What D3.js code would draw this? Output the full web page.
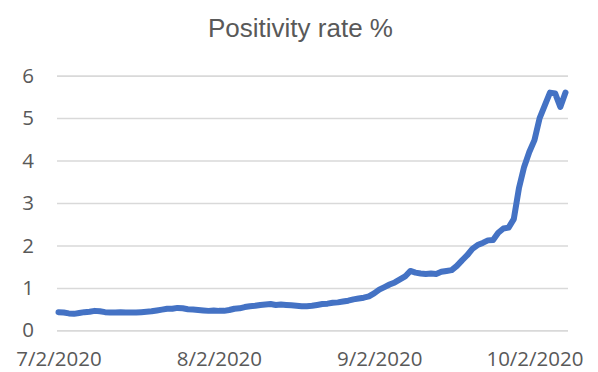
<!DOCTYPE html>
<html>
<head>
<meta charset="utf-8">
<script src="https://cdn.jsdelivr.net/npm/d3@7"></script>
<style>
  html, body { margin: 0; padding: 0; background: #ffffff; }
  svg { display: block; }
</style>
</head>
<body>
<svg id="chart" width="598" height="372"></svg>
<script>
// ---- data ----
const chartTitle = "Positivity rate %";
const startDate = "2020-07-02";          // first daily observation
const positivity = [
  0.43, 0.42, 0.40, 0.39, 0.41, 0.43, 0.44, 0.46, 0.45, 0.43,
  0.42, 0.42, 0.43, 0.42, 0.42, 0.42, 0.43, 0.44, 0.45, 0.47,
  0.49, 0.51, 0.51, 0.53, 0.52, 0.50, 0.49, 0.48, 0.47, 0.46,
  0.47, 0.46, 0.46, 0.48, 0.51, 0.52, 0.55, 0.57, 0.58, 0.60,
  0.61, 0.62, 0.60, 0.61, 0.60, 0.59, 0.58, 0.57, 0.57, 0.58,
  0.60, 0.62, 0.63, 0.65, 0.66, 0.68, 0.70, 0.73, 0.75, 0.77,
  0.80, 0.87, 0.96, 1.02, 1.08, 1.13, 1.20, 1.27, 1.40, 1.36,
  1.34, 1.33, 1.34, 1.33, 1.38, 1.40, 1.42, 1.52, 1.65, 1.77,
  1.92, 2.01, 2.06, 2.12, 2.13, 2.30, 2.40, 2.42, 2.62, 3.35,
  3.85, 4.20, 4.48, 5.00, 5.30, 5.60, 5.58, 5.26, 5.60
];
const xTickLabels = ["2020-07-02", "2020-08-02", "2020-09-02", "2020-10-02"];
const yTicks = [0, 1, 2, 3, 4, 5, 6];

// ---- build series ----
const parse = d3.timeParse("%Y-%m-%d");
const d0 = parse(startDate);
const series = positivity.map((v, i) => ({ date: d3.timeDay.offset(d0, i), value: v }));

// ---- layout ----
const svg = d3.select("#chart");
const plot = { left: 57, right: 568, top: 75.6, bottom: 330.4 };

const x = d3.scaleTime()
  .domain([d0, series[series.length - 1].date])
  .range([58.5, 565.5]);
const y = d3.scaleLinear()
  .domain([0, 6])
  .range([plot.bottom, plot.top]);

// title
svg.append("text")
  .attr("x", 300.5)
  .attr("y", 37)
  .attr("text-anchor", "middle")
  .attr("font-family", "'Liberation Sans', Arial, sans-serif")
  .attr("font-size", 26)
  .attr("fill", "#595959")
  .text(chartTitle);

// gridlines (y axis)
const yAxis = d3.axisLeft(y)
  .tickValues(yTicks)
  .tickSize(-(plot.right - plot.left))
  .tickPadding(23)
  .tickFormat(d3.format("d"));
const gy = svg.append("g")
  .attr("transform", `translate(${plot.left},0)`)
  .call(yAxis);
gy.select(".domain").remove();
gy.selectAll(".tick line")
  .attr("stroke", "#d9d9d9")
  .attr("stroke-width", 1.6);
gy.selectAll(".tick text")
  .attr("font-family", "'Open Sans', sans-serif")
  .attr("font-size", 20.5)
  .attr("fill", "#595959");

// x axis labels
const xAxis = d3.axisBottom(x)
  .tickValues(xTickLabels.map(parse))
  .tickSize(0)
  .tickPadding(0)
  .tickFormat(d3.timeFormat("%-m/%-d/%Y"));
const gx = svg.append("g")
  .attr("transform", `translate(0,${plot.bottom})`)
  .call(xAxis);
gx.select(".domain").remove();
gx.selectAll(".tick text")
  .attr("dy", null)
  .attr("y", 35.5)
  .attr("font-family", "'Open Sans', sans-serif")
  .attr("font-size", 20.5)
  .attr("fill", "#595959");

// line
const line = d3.line()
  .x(d => x(d.date))
  .y(d => y(d.value));
svg.append("path")
  .datum(series)
  .attr("d", line)
  .attr("fill", "none")
  .attr("stroke", "#4472c4")
  .attr("stroke-width", 6)
  .attr("stroke-linejoin", "round")
  .attr("stroke-linecap", "round");
</script>
</body>
</html>
